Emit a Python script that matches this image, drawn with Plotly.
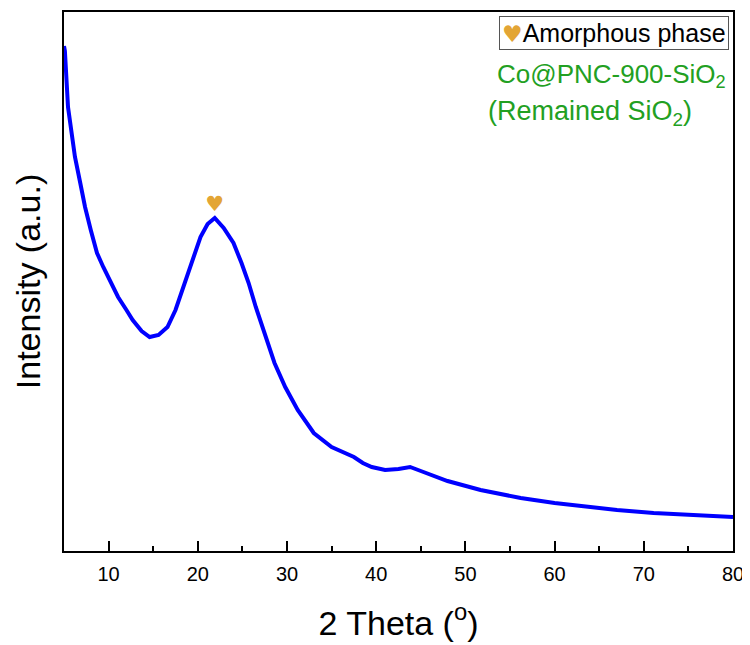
import plotly.graph_objects as go

# XRD pattern (2 theta in degrees, intensity in a.u.)
two_theta = [5.0, 5.1, 5.45, 5.8, 6.23, 6.8, 7.36, 8.0, 8.7, 9.4, 10.16, 11.06,
             12.0, 12.7, 13.7, 14.6, 15.6, 16.6, 17.5, 18.4, 19.4, 20.3, 21.1,
             21.9, 22.9, 24.0, 24.9, 25.7, 26.5, 27.6, 28.6, 29.8, 31.2, 33.0,
             35.0, 37.5, 38.5, 39.5, 41.0, 42.5, 43.8, 45.0, 46.5, 48.0, 51.7,
             56.2, 60.0, 63.7, 67.0, 71.1, 75.0, 80.0]
intensity = [505, 500, 444, 418, 394, 369, 344, 321, 298, 284, 271, 254,
             241, 231, 220, 214, 216, 224, 241, 264, 289, 314, 327,
             333, 323, 308, 288, 268, 244, 214, 188, 164, 141, 118,
             104, 94, 88, 84, 81, 82, 84, 80, 75, 70, 61,
             53, 48, 44, 41, 38, 36, 34]

peak_x = [21.9]
peak_y = [345]

x_ticks = [10, 20, 30, 40, 50, 60, 70, 80]

fig = go.Figure()

fig.add_trace(go.Scatter(x=two_theta, y=intensity, mode='lines',
                         line=dict(color='#0000ff', width=4),
                         showlegend=False))

fig.add_trace(go.Scatter(x=peak_x, y=peak_y, mode='text', text=['♥'],
                         textfont=dict(color='#e3a535', size=21,
                                       family='DejaVu Sans'),
                         showlegend=False))

fig.add_annotation(xref='paper', yref='paper', x=0.994, y=0.993,
                   xanchor='right', yanchor='top', showarrow=False,
                   text="<span style='color:#e3a535;font-size:23px;font-family:DejaVu Sans'>♥</span>Amorphous phase",
                   font=dict(family='Liberation Sans, Arial', size=25,
                             color='black'),
                   bordercolor='#555555', borderwidth=1, borderpad=2,
                   bgcolor='white')
fig.add_annotation(xref='paper', yref='paper', x=0.9925, y=0.883,
                   xanchor='right', yanchor='middle', showarrow=False,
                   text='Co@PNC-900-SiO<sub>2</sub>',
                   font=dict(family='Liberation Sans, Arial', size=26,
                             color='#22a022'))
fig.add_annotation(xref='paper', yref='paper', x=0.786, y=0.8126,
                   xanchor='center', yanchor='middle', showarrow=False,
                   text='(Remained SiO<sub>2</sub>)',
                   font=dict(family='Liberation Sans, Arial', size=27,
                             color='#22a022'))

# the page body adds an 8px offset, so the figure is 8px smaller
fig.update_layout(
    width=742, height=637,
    margin=dict(l=56, r=17, t=4, b=94),
    plot_bgcolor='white', paper_bgcolor='white',
    font=dict(family='Liberation Sans, Arial', color='black'),
    xaxis=dict(range=[5, 80], tickvals=x_ticks, ticks='inside', ticklen=10,
               tickwidth=1.5, tickcolor='black', automargin=False,
               ticklabelstandoff=4,
               minor=dict(dtick=5, tick0=5, ticks='inside', ticklen=5,
                          tickwidth=1.5, tickcolor='black'),
               showline=True, linecolor='black', linewidth=1.5, mirror=True,
               showgrid=False, zeroline=False, tickfont=dict(size=20),
               title=dict(text='2 Theta (<sup>o</sup>)', font=dict(size=34),
                          standoff=27)),
    yaxis=dict(range=[0, 539], showticklabels=False, ticks='',
               showline=True, linecolor='black', linewidth=1.5, mirror=True,
               showgrid=False, zeroline=False, automargin=False,
               title=dict(text='Intensity (a.u.)', font=dict(size=34),
                          standoff=11)),
)

fig.write_html("out.html")
